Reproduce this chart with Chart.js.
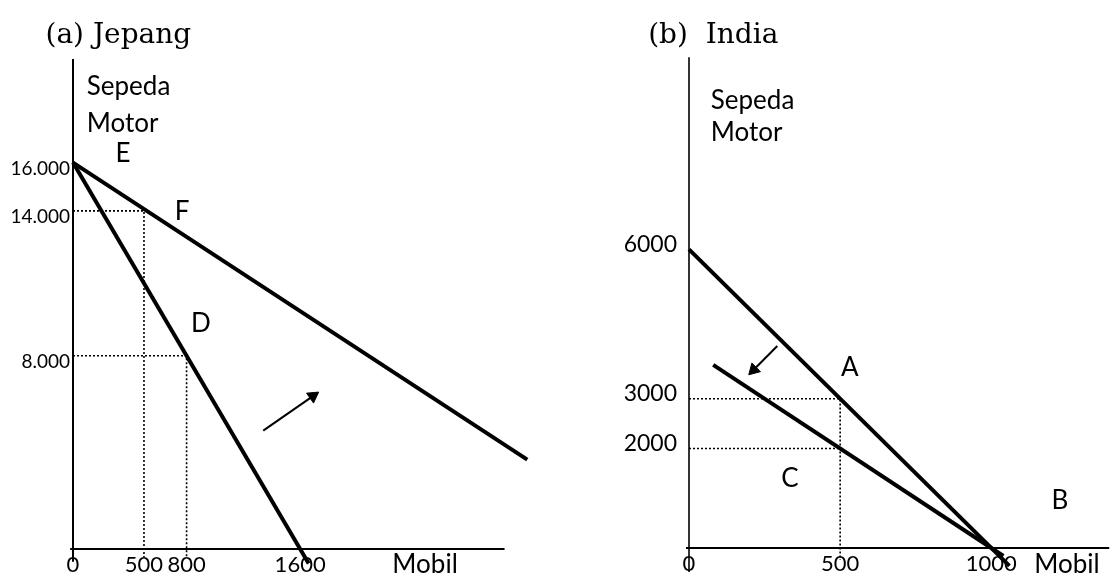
<!DOCTYPE html>
<html>
<head>
<meta charset="utf-8">
<script src="https://cdn.jsdelivr.net/npm/chart.js@4.4.1/dist/chart.umd.min.js"></script>
<style>
  html, body { margin: 0; padding: 0; background: #fff; }
  .box { position: absolute; top: 0; width: 558px; height: 576px; }
  #boxA { left: 0; }
  #boxB { left: 558px; }
</style>
</head>
<body>
<div class="box" id="boxA"><canvas id="chartA" width="558" height="576"></canvas></div>
<div class="box" id="boxB"><canvas id="chartB" width="558" height="576"></canvas></div>
<script>
// (a) Jepang
var jpTicksX = [0, 500, 800, 1600];
var jpTicksY = [8000, 14000, 16000];
var jpTickLabelsY = ['8.000', '14.000', '16.000'];
var jpLineD = [[0, 16000], [1660, -600]];
var jpLineF = [[0, 16000], [3200, 3700]];
var jpGuideF = [[0, 14000], [500, 14000], [500, -330]];
var jpGuideD = [[0, 8000], [800, 8000], [800, -330]];
var jpArrow = [[1340, 4900], [1690, 6330]];
var jpAxisX = [[-20, 0], [3040, 0]];
var jpAxisY = [[0, -530], [0, 20290]];

// (b) India
var inTicksX = [0, 500, 1000];
var inTicksY = [2000, 3000, 6000];
var inTickLabelsY = ['2000', '3000', '6000'];
var inLineA = [[0, 6000], [1060, -360]];
var inLineC = [[80, 3680], [1040, -160]];
var inGuideA = [[0, 3000], [500, 3000], [500, -240]];
var inGuideC = [[0, 2000], [500, 2000]];
var inArrow = [[292, 4060], [214, 3580]];
var inAxisX = [[-10, 0], [1390, 0]];
var inAxisY = [[0, -480], [0, 9860]];

var jpNotes = [
    ['(a) Jepang', -194, 21270, 'left', 'title'],
    ['Sepeda', 97, 19140, 'left', 'text'],
    ['Motor', 97, 17630, 'left', 'text'],
    ['E', 353, 16370, 'center', 'text'],
    ['F', 769, 13960, 'center', 'text'],
    ['D', 900, 9350, 'center', 'text'],
    ['Mobil', 2480, -650, 'center', 'text']
];
var inNotes = [
    ['(b)  India', -135, 10297, 'left', 'title'],
    ['Sepeda', 72, 8990, 'left', 'text'],
    ['Motor', 72, 8337, 'left', 'text'],
    ['A', 532, 3624, 'center', 'text'],
    ['C', 334, 1386, 'center', 'text'],
    ['B', 1227, 950, 'center', 'text'],
    ['Mobil', 1250, -337, 'center', 'text']
];

var fonts = {
    title: '28px "DejaVu Serif"',
    text: '26px Lato'
};

function pts(arr) {
    return arr.map(function(p) { return {x: p[0], y: p[1]}; });
}

function line(arr, width) {
    return {data: pts(arr), showLine: true, borderColor: '#000', borderWidth: width,
        pointRadius: 0, clip: false, tension: 0};
}

function dotted(arr) {
    var ds = line(arr, 1.6);
    ds.borderDash = [2, 2];
    return ds;
}

function arrow(arr, rot) {
    var ds = line(arr, 2);
    ds.pointStyle = 'triangle';
    ds.pointRadius = [0, 7];
    ds.pointRotation = [0, rot];
    ds.pointBackgroundColor = '#000';
    ds.pointBorderColor = '#000';
    ds.pointBorderWidth = 1;
    return ds;
}

function notesPlugin(items) {
    return {
        id: 'notes',
        afterDatasetsDraw: function(chart) {
            var ctx = chart.ctx, xs = chart.scales.x, ys = chart.scales.y;
            ctx.save();
            ctx.fillStyle = '#000';
            ctx.textBaseline = 'middle';
            items.forEach(function(n) {
                ctx.font = fonts[n[4]];
                ctx.textAlign = n[3];
                ctx.fillText(n[0], xs.getPixelForValue(n[1]), ys.getPixelForValue(n[2]));
            });
            ctx.restore();
        }
    };
}

function makeChart(id, o) {
    new Chart(document.getElementById(id), {
        type: 'scatter',
        data: {datasets: o.datasets},
        plugins: [notesPlugin(o.notes)],
        options: {
            responsive: false,
            animation: false,
            events: [],
            layout: {padding: 0},
            plugins: {legend: {display: false}, tooltip: {enabled: false}},
            scales: {
                x: {
                    type: 'linear', min: 0, max: o.xMax,
                    grid: {display: false, drawTicks: false},
                    border: {display: false},
                    afterBuildTicks: function(s) { s.ticks = o.ticksX.map(function(v) { return {value: v}; }); },
                    afterFit: function(s) { s.height = o.xHeight; s.paddingLeft = 0; s.paddingRight = 0; },
                    ticks: {color: '#000', font: {family: 'Lato', size: 22}, padding: 3,
                        autoSkip: false, maxRotation: 0,
                        callback: function(v) { return String(v); }}
                },
                y: {
                    type: 'linear', min: 0, max: o.yMax,
                    grid: {display: false, drawTicks: false},
                    border: {display: false},
                    afterBuildTicks: function(s) { s.ticks = o.ticksY.map(function(v) { return {value: v}; }); },
                    afterFit: function(s) { s.width = o.yWidth; s.paddingTop = 0; s.paddingBottom = 0; },
                    ticks: {color: '#000', font: {family: 'Lato', size: o.yFont}, padding: o.yPad,
                        labelOffset: o.yOffset, autoSkip: false,
                        callback: function(v) { return o.labelsY[o.ticksY.indexOf(v)]; }}
                }
            }
        }
    });
}

makeChart('chartA', {
    xMax: 3360, yMax: 22400, xHeight: 27, yWidth: 73,
    ticksX: jpTicksX, ticksY: jpTicksY, labelsY: jpTickLabelsY,
    yFont: 19, yPad: 3, yOffset: 6,
    notes: jpNotes,
    datasets: [
        line(jpAxisX, 2), line(jpAxisY, 2),
        dotted(jpGuideF), dotted(jpGuideD),
        line(jpLineD, 4), line(jpLineF, 4),
        arrow(jpArrow, 55)
    ]
});

makeChart('chartB', {
    xMax: 1386, yMax: 10850, xHeight: 28, yWidth: 131,
    ticksX: inTicksX, ticksY: inTicksY, labelsY: inTickLabelsY,
    yFont: 23, yPad: 12, yOffset: -5,
    notes: inNotes,
    datasets: [
        line(inAxisX, 2), line(inAxisY, 1.6),
        dotted(inGuideA), dotted(inGuideC),
        line(inLineA, 4), line(inLineC, 4),
        arrow(inArrow, 225)
    ]
});
</script>
</body>
</html>
